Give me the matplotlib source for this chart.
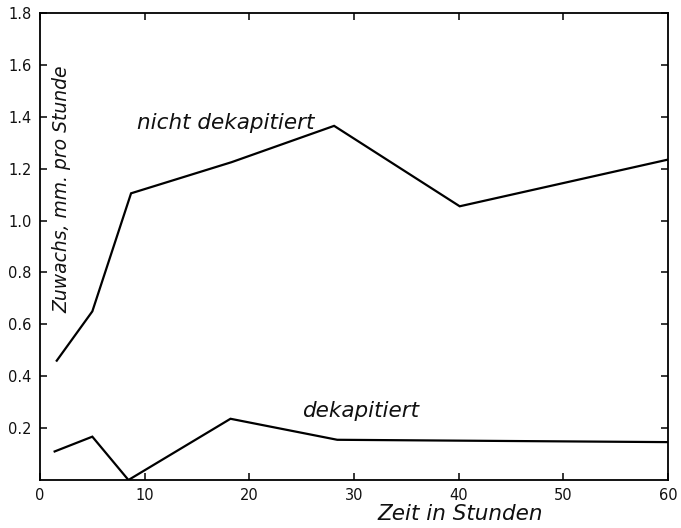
import matplotlib
matplotlib.use("Agg")
import matplotlib.pyplot as plt

# Data
x_nicht = [1.6, 5.0, 8.7, 18.3, 28.1, 40.1, 60.0]
y_nicht = [0.46, 0.65, 1.105, 1.225, 1.365, 1.055, 1.235]

x_dek = [1.4, 5.0, 8.45, 18.2, 28.4, 60.0]
y_dek = [0.11, 0.167, 0.0, 0.236, 0.155, 0.146]

xticks = [0, 10, 20, 30, 40, 50, 60]
yticks = [0.2, 0.4, 0.6, 0.8, 1.0, 1.2, 1.4, 1.6, 1.8]
yticklabels = ["0.2", "0.4", "0.6", "0.8", "1.0", "1.2", "1.4", "1.6", "1.8"]

fig = plt.figure(figsize=(6.81, 5.28), dpi=100)
ax = fig.add_axes([40/681, 48/528, (668-40)/681, (480-13)/528])

ax.plot(x_nicht, y_nicht, color="black", lw=1.6, solid_joinstyle="miter")
ax.plot(x_dek, y_dek, color="black", lw=1.6, solid_joinstyle="miter")

ax.set_xlim(0, 60)
ax.set_ylim(0, 1.8)
ax.set_xticks(xticks)
ax.set_yticks(yticks)
ax.set_yticklabels(yticklabels)
ax.tick_params(direction="in", length=5, width=1.1, top=True, right=True,
               labelsize=10.5, pad=6, labelcolor="#111111")
for s in ax.spines.values():
    s.set_linewidth(1.3)

lab = dict(fontstyle="italic", color="#111111", family="DejaVu Sans")
ax.text(2.1, 1.12, "Zuwachs, mm. pro Stunde", rotation=90, ha="center", va="center",
        fontsize=13.5, **lab)
ax.text(17.7, 1.375, "nicht dekapitiert", ha="center", va="center", fontsize=15.5, **lab)
ax.text(30.6, 0.265, "dekapitiert", ha="center", va="center", fontsize=15.5, **lab)
fig.text(460/681, 1 - 514/528, "Zeit in Stunden", ha="center", va="center",
         fontsize=15.5, **lab)

fig.savefig("out.png", dpi=100)
